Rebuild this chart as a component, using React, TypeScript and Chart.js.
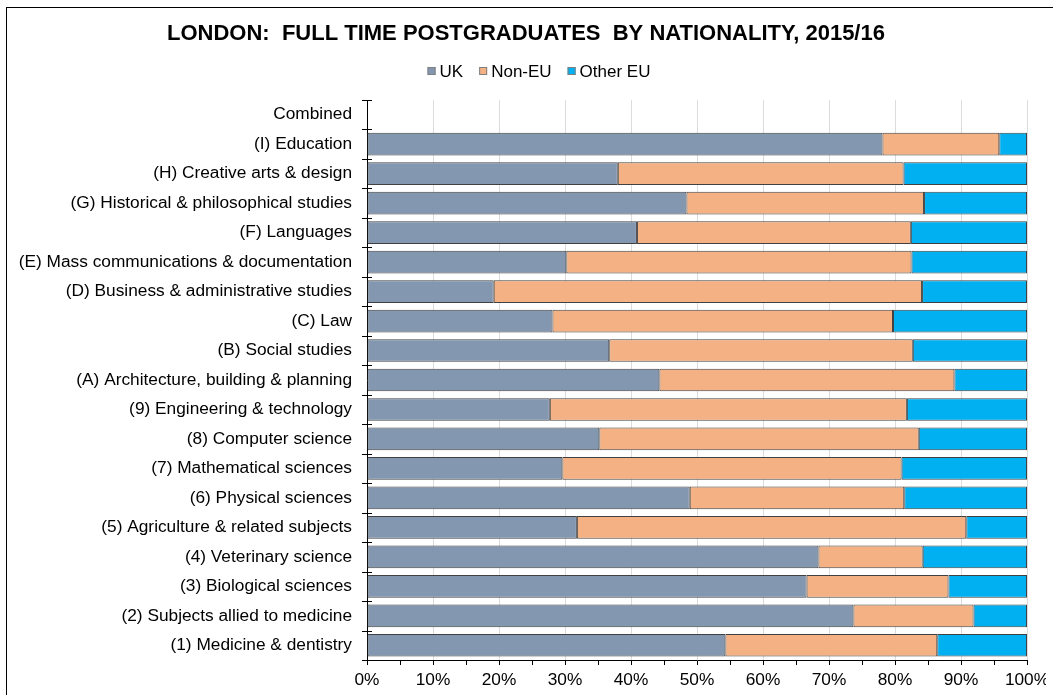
import React, { useEffect, useRef } from "react";
import { Chart, registerables } from "chart.js";

Chart.register(...registerables);

const chartTitle = "LONDON:  FULL TIME POSTGRADUATES  BY NATIONALITY, 2015/16";

const categories = [
  "Combined",
  "(I) Education",
  "(H) Creative arts & design",
  "(G) Historical & philosophical studies",
  "(F) Languages",
  "(E) Mass communications & documentation",
  "(D) Business & administrative studies",
  "(C) Law",
  "(B) Social studies",
  "(A) Architecture, building & planning",
  "(9) Engineering & technology",
  "(8) Computer science",
  "(7) Mathematical sciences",
  "(6) Physical sciences",
  "(5) Agriculture & related subjects",
  "(4) Veterinary science",
  "(3) Biological sciences",
  "(2) Subjects allied to medicine",
  "(1) Medicine & dentistry",
];

const seriesNames = ["UK", "Non-EU", "Other EU"];

const ukShare = [null, 78.1, 38.0, 48.4, 40.9, 30.2, 19.2, 28.1, 36.7, 44.3, 27.7, 35.2, 29.6, 48.9, 31.8, 68.4, 66.6, 73.7, 54.3];
const nonEuShare = [null, 17.7, 43.3, 36.0, 41.5, 52.3, 64.9, 51.6, 46.0, 44.7, 54.1, 48.4, 51.4, 32.5, 59.0, 15.8, 21.5, 18.2, 32.1];
const otherEuShare = [null, 4.2, 18.7, 15.6, 17.6, 17.5, 15.9, 20.3, 17.3, 11.0, 18.2, 16.4, 19.0, 18.6, 9.2, 15.8, 11.9, 8.1, 13.6];

const xTickStep = 5;
const xLabelStep = 10;

const FONT = "'Liberation Sans', Arial, sans-serif";
const COLORS = ["#8497B0", "#F4B183", "#00B0F0"];
const EDGE = "#404040";

const overlayPlugin = {
  id: "overlay",
  afterDraw(chart: any) {
    const ctx = chart.ctx;
    const yScale = chart.scales.y;
    const area = chart.chartArea;
    const n = chart.data.labels.length;
    const band = (yScale.bottom - yScale.top) / n;
    ctx.save();
    // category cross ticks
    ctx.strokeStyle = "#000";
    ctx.lineWidth = 1;
    for (let i = 0; i <= n; i++) {
      const py = Math.round(yScale.getPixelForValue(0) - band / 2 + i * band) + 0.5;
      ctx.beginPath();
      ctx.moveTo(area.left - 5, py);
      ctx.lineTo(area.left + 5, py);
      ctx.stroke();
    }
    // title
    ctx.fillStyle = "#000";
    ctx.font = `bold 22px ${FONT}`;
    ctx.textAlign = "center";
    ctx.textBaseline = "middle";
    ctx.fillText(chartTitle, 519, 26);
    // legend
    ctx.font = `17px ${FONT}`;
    ctx.textAlign = "left";
    const box = 8;
    const gap = 4;
    const spacing = 16;
    const items = chart.data.datasets.map((d: any) => ({
      text: d.label,
      color: d.backgroundColor,
      w: box + gap + ctx.measureText(d.label).width,
    }));
    const total = items.reduce((s: number, it: any) => s + it.w, 0) + spacing * (items.length - 1);
    let x = 532 - total / 2;
    const ly = 63;
    items.forEach((it: any) => {
      ctx.fillStyle = it.color;
      ctx.fillRect(x, ly - box / 2, box, box);
      ctx.strokeStyle = "#7f7f7f";
      ctx.strokeRect(x + 0.5, ly - box / 2 + 0.5, box - 1, box - 1);
      ctx.fillStyle = "#000";
      ctx.fillText(it.text, x + box + gap, ly + 1);
      x += it.w + spacing;
    });
    ctx.restore();
  },
};

export default function App() {
  const canvasRef = useRef<HTMLCanvasElement | null>(null);

  useEffect(() => {
    if (!canvasRef.current) return;
    const series = [ukShare, nonEuShare, otherEuShare];
    const chart = new Chart(canvasRef.current, {
      type: "bar",
      data: {
        labels: categories,
        datasets: series.map((vals, i) => ({
          label: seriesNames[i],
          data: vals,
          backgroundColor: COLORS[i],
          borderColor: EDGE,
          borderWidth: 1,
          borderSkipped: false,
          barPercentage: 0.77,
          categoryPercentage: 1,
        })),
      },
      options: {
        indexAxis: "y",
        animation: false,
        responsive: false,
        maintainAspectRatio: false,
        devicePixelRatio: 1,
        layout: { padding: { top: 92, right: 19, bottom: 0, left: 0 } },
        plugins: {
          legend: { display: false },
          title: { display: false },
          tooltip: { enabled: false },
        },
        scales: {
          x: {
            stacked: true,
            min: 0,
            max: 100,
            afterFit: (scale: any) => {
              scale.height = 35;
              scale.paddingRight = 0;
              scale.paddingLeft = 0;
            },
            ticks: {
              stepSize: xTickStep,
              autoSkip: false,
              maxRotation: 0,
              padding: 5,
              color: "#000",
              font: { family: FONT, size: 17.3 },
              callback: (v: any) => (Number(v) % xLabelStep === 0 ? `${v}%` : ""),
            },
            grid: {
              color: (c: any) => (c.tick && c.tick.value % xLabelStep === 0 ? "#dcdcdc" : "rgba(0,0,0,0)"),
              tickColor: "#000",
              tickLength: 5,
              drawTicks: true,
            },
            border: { color: "#000", width: 1 },
          },
          y: {
            stacked: true,
            afterFit: (scale: any) => {
              scale.width = 360;
              scale.paddingTop = 0;
              scale.paddingBottom = 0;
            },
            ticks: {
              autoSkip: false,
              padding: 15,
              color: "#000",
              font: { family: FONT, size: 17.3 },
            },
            grid: { drawOnChartArea: false, drawTicks: false },
            border: { color: "#000", width: 1 },
          },
        },
      },
      plugins: [overlayPlugin],
    });
    return () => chart.destroy();
  }, []);

  return (
    <div
      style={{
        position: "fixed",
        left: 0,
        top: 0,
        width: 1053,
        height: 695,
        overflow: "hidden",
        background: "#fff",
      }}
    >
      <div
        style={{
          position: "absolute",
          left: 6,
          top: 7,
          width: 1080,
          height: 720,
          borderLeft: "1px solid #000",
          borderTop: "1px solid #000",
        }}
      >
        <canvas
          ref={canvasRef}
          width={1039}
          height={687}
          style={{ display: "block", width: 1039, height: 687 }}
        />
      </div>
    </div>
  );
}
